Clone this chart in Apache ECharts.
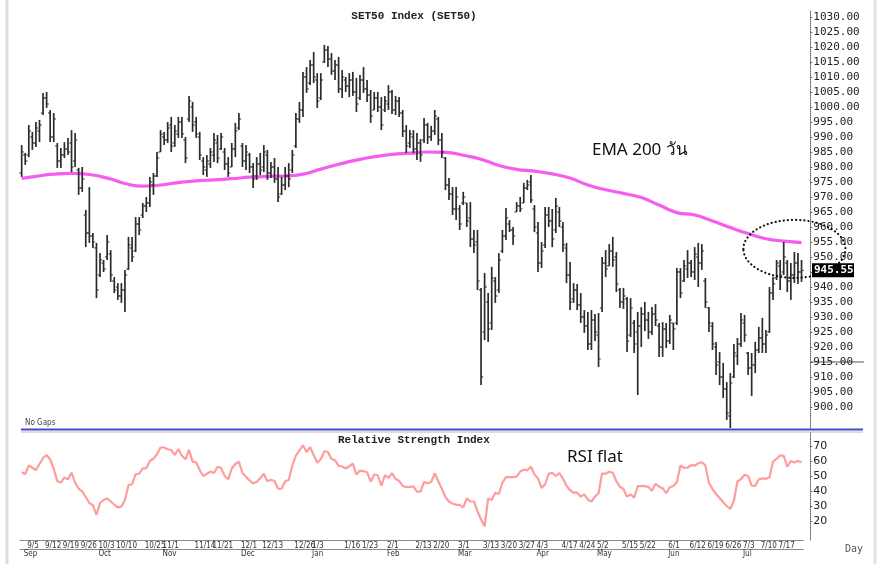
<!DOCTYPE html>
<html><head><meta charset="utf-8">
<script src="https://cdn.jsdelivr.net/npm/echarts@6/dist/echarts.min.js"></script>
<style>html,body{margin:0;padding:0;background:#fff}#c{width:880px;height:564px}</style>
</head><body><div id="c"></div>
<script>
// ---- categories (trading days, Sep 2022 - Jul 2023) ----
const dates = ['9/2','9/5','9/6','9/7','9/8','9/9','9/12','9/13','9/14','9/15','9/16','9/19','9/20','9/21','9/22','9/23','9/26','9/27','9/28','9/29','9/30',
'10/3','10/4','10/5','10/6','10/7','10/10','10/11','10/12','10/17','10/18','10/19','10/20','10/21','10/25','10/26','10/27','10/28','10/31',
'11/1','11/2','11/3','11/4','11/7','11/8','11/9','11/10','11/11','11/14','11/15','11/16','11/17','11/18','11/21','11/22','11/23','11/24','11/25','11/28','11/29','11/30',
'12/1','12/2','12/6','12/7','12/8','12/9','12/13','12/14','12/15','12/16','12/19','12/20','12/21','12/22','12/23','12/26','12/27','12/28','12/29','12/30',
'1/3','1/4','1/5','1/6','1/9','1/10','1/11','1/12','1/13','1/16','1/17','1/18','1/19','1/20','1/23','1/24','1/25','1/26','1/27','1/30','1/31',
'2/1','2/2','2/3','2/6','2/7','2/8','2/9','2/10','2/13','2/14','2/15','2/16','2/17','2/20','2/21','2/22','2/23','2/24','2/27','2/28',
'3/1','3/2','3/3','3/7','3/8','3/9','3/10','3/13','3/14','3/15','3/16','3/17','3/20','3/21','3/22','3/23','3/24','3/27','3/28','3/29','3/30','3/31',
'4/3','4/4','4/5','4/7','4/10','4/11','4/12','4/17','4/18','4/19','4/20','4/21','4/24','4/25','4/26','4/27','4/28',
'5/2','5/3','5/8','5/9','5/10','5/11','5/12','5/15','5/16','5/17','5/18','5/19','5/22','5/23','5/24','5/25','5/26','5/29','5/30','5/31',
'6/1','6/2','6/6','6/7','6/8','6/9','6/12','6/13','6/14','6/15','6/16','6/19','6/20','6/21','6/22','6/23','6/26','6/27','6/28','6/29','6/30',
'7/3','7/4','7/5','7/6','7/7','7/10','7/11','7/12','7/13','7/14','7/17','7/18','7/19','7/20','7/21','7/24','7/25','7/26'];

// ---- tick labels ----
const labeledDates = ['9/5','9/12','9/19','9/26','10/3','10/10','10/25','11/1','11/14','11/21','12/1','12/13','12/26','1/3','1/16','1/23','2/1','2/13','2/20','3/1','3/13','3/20','3/27','4/3','4/17','4/24','5/2','5/15','5/22','6/1','6/12','6/19','6/26','7/3','7/10','7/17'];
const monthDates = ['9/2','10/3','11/1','12/1','1/3','2/1','3/1','4/3','5/2','6/1','7/3'];
const monthNames = ['Sep','Oct','Nov','Dec','Jan','Feb','Mar','Apr','May','Jun','Jul'];
const priceTicks = [900,905,910,915,920,925,930,935,940,945,950,955,960,965,970,975,980,985,990,995,1000,1005,1010,1015,1020,1025,1030];
const rsiTicks = [20,30,40,50,60,70];

// ---- SET50 daily OHLC ----
const opens = [978,984,984,990,988,992,998,1003,998,990,
987,982,984,986,988,982,979,973,964,958,
957,953,944,948,950,951,942,940,937,939,
946,953,952,961,964,967,968,974,977,985,
990,989,994,988,991,995,989,996,1000,995,
990,982,979,981,984,988,986,985,981,980,
986,993,987,982,984,980,977,981,980,984,
978,980,976,971,974,977,979,987,996,999,
1010,1008,1014,1009,1003,1015,1019,1016,1012,1014,
1006,1009,1007,1009,1005,1003,1009,1006,1004,999,
1003,1000,999,1001,1005,999,1002,998,992,988,
990,986,988,989,994,990,992,996,989,983,
974,971,966,966,968,968,963,956,955,939,
925,935,928,942,939,952,957,961,959,965,
967,968,973,975,966,958,948,954,964,962,
959,965,960,953,944,936,939,934,930,927,
921,929,924,933,948,947,952,950,939,935,
936,924,928,925,927,931,929,925,931,927,
920,926,922,928,928,945,942,946,948,945,
950,948,942,933,927,920,915,910,906,897,
910,917,921,928,918,913,914,919,923,921,
925,938,943,947,945,948,942,944,948,945];
const highs = [987.3,984.7,994,991.7,995,995.7,1004.7,1005,999,998,
988,986.3,988.3,989.7,992.3,991.3,979.7,980,965.7,973.3,
958,954.7,951.3,949,957.3,952.3,943.3,941.3,941.3,945.7,
956.7,956.7,963.3,963.3,968,970,976.7,978,985,992.3,
991.7,995,996.7,994,996.7,996.7,990,1003.7,1001.7,996.7,
991.7,983.3,984,986.3,991.3,990.7,991.3,986.3,983.3,988,
994.7,998,988,987.3,984.7,981.3,983.3,984.7,987.3,985.7,
981.7,983,980,976.7,980,981.3,985.7,998,1001.7,1011.7,
1013.3,1015.7,1018.3,1011.3,1011.3,1020.7,1020.3,1018,1015.7,1016.7,
1012.3,1010,1011.3,1011.7,1009.7,1010.7,1013.3,1009,1005.7,1005,
1005,1003.3,1003.7,1007.3,1005.7,1003.7,1003.3,999,994,992.3,
992.3,991.3,989.3,996.3,994.7,993.7,999,996.7,991.3,983.3,
976.3,973.3,973.3,967.3,971.7,968,968.3,959,959,939.7,
944.7,938,946.7,943.3,951.3,959,966.3,962.3,960,968.3,
970,974.7,975.7,977.3,967.3,961.7,955,966.7,966.7,966,
969.7,966.7,961.7,954.7,948.3,941.3,941,938,932.3,931.7,
932.3,931,931.3,950,952.3,954.3,956.7,951.7,939.7,939.7,
936.7,936.3,929,931.7,933.3,935,931.7,933.3,934.3,928,
928.3,928,930.7,928,946.3,946.3,949,952.3,949,953.3,
954.7,954.3,943,933.3,928.3,921.7,918.3,914.7,908.3,911.3,
921,923,931.3,930.7,918.3,918,921.7,926.7,929.7,925.7,
940,943.3,949,949,955,949,948,951.7,951.3,949];
const lows = [976.7,980.7,983.3,985.7,986.7,988.3,997.3,999.7,988.3,988.3,
979.7,979.7,983,984,978.3,980,970.7,971.7,953.3,954.7,
953,936.3,943.3,945,949,941.7,938,935.7,934.7,931.7,
945.7,948.3,951.7,957.3,963,965,966.7,970.7,976.7,985,
987.3,988,985,986.7,989.7,989.7,981.3,995,991.7,989.7,
982.3,977.3,976.7,979.7,981.7,981.3,985.7,979,976.7,980,
983.3,992.3,980,979,978,973,975.7,977.3,978.3,975.7,
976.3,974.7,968.3,970.7,972.3,973.3,978,986.3,994.7,996.7,
1004.7,1007.3,1008,999.7,1002.3,1014.7,1013.3,1010.7,1009,1004.7,
1003,1005,1003.3,1003.7,998.3,1002.3,1004.7,1001.7,994.7,999,
998.3,992.3,998.3,999,997.7,997.3,996.7,990,984.7,986.3,
984.7,982.3,981.7,988,987.7,988.7,990.7,987.3,983,972.3,
969,964,962.3,959,967.3,960,953.3,951.3,939,907.3,
922.3,921.7,925.7,934.7,938,951.3,955.7,958.3,954,965,
965,968,972.3,968,958.3,945,946.3,953,960,953.3,
958,960,951.7,941.3,932.3,934.7,932.3,928,924.7,919,
919,922,913.3,931.7,943.3,947,946.7,938.3,933,932.7,
918.3,923.3,918,904,920,925.3,922.7,924,927,916.7,
916.7,919.7,921,919,927.3,936.3,941.7,943,943.3,942.3,
940,945.7,933,925,919,910.7,907.3,903,895.7,893,
909.7,914,920,921.7,910.7,903.7,911.3,918,918,918,
924.7,935.7,942.3,939,944,938.3,935.7,941.3,941,941.7];
const closes = [985,982,992,988,993,994,1003,1001,990,996,
982,984,986,985,980,989,973,976,958,957,
955,939,949,946,955,944,939,937,939,944,
954,950,961,959,967,968,975,977,983,991,
989,993,987,992,995,991,983,1002,994,991,
984,980,982,985,989,983,990,981,978,986,
992,996,982,985,980,976,981,979,985,978,
980,976,970,974,977,976,984,996,999,1010,
1006,1014,1010,1002,1009,1019,1016,1012,1014,1006,
1010,1007,1009,1005,1001,1009,1006,1004,997,1003,
1000,994,1002,1005,999,1002,998,992,987,991,
986,988,984,994,990,992,997,989,985,974,
971,966,970,961,970,962,956,954,942,910,
940,926,943,937,949,957,963,959,957,967,
966,973,974,969,960,948,952,964,962,956,
967,962,954,944,935,939,934,930,927,921,
929,925,916,948,946,952,949,941,935,937,
922,933,921,927,931,929,925,931,929,920,
926,922,929,926,945,938,947,948,945,951,
948,952,935,928,921,914,910,906,898,908,
918,921,929,924,913,914,919,923,921,924,
938,941,948,944,950,942,944,948,945,945.55];

// ---- EMA 200 (read at sampled days) ----
const emaDates = ['9/2','9/8','9/15','9/22','9/29','10/7','10/17','10/25','11/1','11/8','11/15','11/22','11/29','12/7','12/15','12/22','12/29','1/6','1/13','1/20','1/27','2/3','2/10','2/17','2/24','3/3','3/13','3/20','3/27','4/3','4/11','4/20','4/27','5/9','5/16','5/23','5/30','6/7','6/14','6/21','6/28','7/5','7/12','7/19','7/26'];
const emaValues = [976.2,976.9,977.6,977.9,977.5,976.0,974.5,973.6,974.0,974.8,975.4,975.7,976.1,976.6,976.9,977.0,977.6,979.3,980.9,982.3,983.4,984.2,984.6,985.0,984.9,983.9,982.6,980.5,979.2,978.6,977.7,976.3,974.0,972.4,971.2,969.8,967.3,964.8,964.0,962.0,959.8,957.8,956.1,955.3,954.8];

// ---- RSI ----
const rsi = [52.5,51.3,57,55.5,54,58,62,64,61,55,
46.5,45.6,49,47.8,52.2,45.5,41.5,39.8,36,32,
30.5,24,32,34,35,33,31,29.1,29.6,34,
44,44.5,51.3,51.5,55.1,55.1,60,61.5,64.5,69,
69,67.8,67.3,64,68,63.5,61.1,67.5,59.6,59,
54,50,51.5,52.9,52,56.2,55.3,50,47.8,55,
58,59.5,52,49.5,47,45.1,46,48.5,51.5,46.5,
47.5,46.7,41.5,41.5,46.5,47.3,57,63.5,67,70.5,
66,69.3,64,58.8,61.2,66.5,66,61.3,60.5,56.8,
56.3,55,56.5,58.2,51,53.6,53.2,52.5,46.2,51,
50.5,43.5,50.5,48.8,51.8,48,46.8,43.3,42.6,42.8,
43,39.6,39.6,46,45.2,46,51.8,46.5,41.5,36,
33,31.6,30.8,30.8,29,35.1,33,33,26.5,21,
16.5,35,34,38.8,38,45.5,49.3,49.3,49.2,49.5,
53,54.2,53.8,56.2,51,48.3,42,44.5,51.5,52.1,
50,52,48.3,43.5,40.5,38.9,38.9,36.2,37.8,34.2,
33,36.2,38.5,51.8,51.5,52.8,52.2,46.5,42.8,41.3,
36.2,37.8,35.5,43.3,43.3,43.2,42.7,40.2,44.8,42.9,
41.9,38.5,42.5,43.3,46,57,55.5,55.5,57.2,56.9,
58.5,59.2,57,45.5,41.3,38,35.3,32.5,30,28,
33.5,46.3,47.8,50.8,50,43.5,43.4,47.8,48.4,48.1,
49,59.6,61.5,63.8,63.4,56.2,60,59,60.2,59];

// ---- build ----
const ohlcData = dates.map((d, i) => [i, opens[i], highs[i], lows[i], closes[i]]);
const emaData = emaDates.map((d, i) => [d, emaValues[i]]);
const lastClose = closes[closes.length - 1];
const smallFont = '"Liberation Sans Narrow","DejaVu Sans Condensed","Liberation Sans",sans-serif';

function renderOHLC(params, api) {
  const i = api.value(0);
  const pO = api.coord([i, api.value(1)]);
  const pH = api.coord([i, api.value(2)]);
  const pL = api.coord([i, api.value(3)]);
  const pC = api.coord([i, api.value(4)]);
  const t = 2.2, col = '#2b2b2b';
  return {
    type: 'group',
    children: [
      {type: 'line', shape: {x1: pH[0], y1: pH[1], x2: pL[0], y2: pL[1]}, style: {stroke: col, lineWidth: 1.7}},
      {type: 'line', shape: {x1: pO[0] - t, y1: pO[1], x2: pO[0], y2: pO[1]}, style: {stroke: col, lineWidth: 1}},
      {type: 'line', shape: {x1: pC[0], y1: pC[1], x2: pC[0] + t, y2: pC[1]}, style: {stroke: col, lineWidth: 1}}
    ]
  };
}

const chart = echarts.init(document.getElementById('c'), null, {renderer: 'canvas'});
const gridL = 19.9, gridR = 76.7;
chart.setOption({
  animation: false,
  backgroundColor: '#ffffff',
  grid: [
    {left: gridL, right: gridR, top: 10, height: 418},
    {left: gridL, right: gridR, top: 432, height: 108}
  ],
  xAxis: [
    {type: 'category', gridIndex: 0, data: dates, boundaryGap: true, show: false},
    {type: 'category', gridIndex: 1, data: dates, boundaryGap: true,
      axisLine: {lineStyle: {color: '#8a8a8a', width: 1}},
      axisTick: {alignWithLabel: true, interval: (i, v) => labeledDates.includes(v), length: 9, lineStyle: {color: '#777'}},
      axisLabel: {interval: (i, v) => labeledDates.includes(v), align: 'left', margin: 2, padding: [0, 0, 0, 2],
        fontSize: 8, color: '#333', fontFamily: smallFont},
      splitLine: {show: false}},
    {type: 'category', gridIndex: 1, data: dates, boundaryGap: true, position: 'bottom', offset: 9,
      axisLine: {lineStyle: {color: '#8a8a8a', width: 1}},
      axisTick: {alignWithLabel: true, interval: (i, v) => monthDates.includes(v), length: 8, lineStyle: {color: '#777'}},
      axisLabel: {interval: (i, v) => monthDates.includes(v), formatter: v => monthNames[monthDates.indexOf(v)] || '',
        align: 'left', margin: 1, padding: [0, 0, 0, 2], fontSize: 8, color: '#333', fontFamily: smallFont},
      splitLine: {show: false}}
  ],
  yAxis: [
    {type: 'value', gridIndex: 0, position: 'right', offset: 7, min: 893, max: 1032.33,
      axisLine: {show: true, lineStyle: {color: '#666', type: 'dotted', width: 1}},
      axisTick: {show: true, customValues: priceTicks, length: 2, inside: false, lineStyle: {color: '#666'}},
      axisLabel: {customValues: priceTicks, formatter: v => v.toFixed(2), margin: 3, fontSize: 11, color: '#222',
        fontFamily: '"DejaVu Sans Mono",monospace'},
      splitLine: {show: false}},
    {type: 'value', gridIndex: 1, position: 'right', offset: 7, min: 7.33, max: 79.33,
      axisLine: {show: true, lineStyle: {color: '#666', type: 'dotted', width: 1}},
      axisTick: {show: true, customValues: rsiTicks, length: 2, lineStyle: {color: '#666'}},
      axisLabel: {customValues: rsiTicks, margin: 3, fontSize: 11, color: '#222', fontFamily: '"DejaVu Sans",sans-serif'},
      splitLine: {show: false}}
  ],
  series: [
    {name: 'EMA 200', type: 'line', xAxisIndex: 0, yAxisIndex: 0, data: emaData, smooth: true, showSymbol: false,
      lineStyle: {color: '#f55cf0', width: 3.2}, z: 2},
    {name: 'SET50', type: 'custom', xAxisIndex: 0, yAxisIndex: 0, data: ohlcData, renderItem: renderOHLC,
      encode: {x: 0, y: [1, 2, 3, 4]}, z: 3},
    {name: 'RSI', type: 'line', xAxisIndex: 1, yAxisIndex: 1, data: rsi, showSymbol: false,
      lineStyle: {color: '#ff9c9c', width: 2.2}}
  ]
});

const yLast = chart.convertToPixel({yAxisIndex: 0}, lastClose);
const y915 = chart.convertToPixel({yAxisIndex: 0}, 915);
const ell = chart.convertToPixel({xAxisIndex: 0, yAxisIndex: 0}, [dates[217], 952.7]);

chart.setOption({
  graphic: [
    {type: 'line', shape: {x1: 7, y1: 0, x2: 7, y2: 564}, style: {stroke: '#dcdcdc', lineWidth: 3}, silent: true},
    {type: 'line', shape: {x1: 875, y1: 0, x2: 875, y2: 564}, style: {stroke: '#e2e2e2', lineWidth: 3}, silent: true},
    {type: 'line', shape: {x1: 21, y1: 429.5, x2: 863, y2: 429.5}, style: {stroke: '#4848c8', lineWidth: 2}, silent: true},
    {type: 'line', shape: {x1: 21, y1: 432, x2: 863, y2: 432}, style: {stroke: '#b8b8c8', lineWidth: 1}, silent: true},
    {type: 'line', shape: {x1: 810, y1: y915, x2: 864, y2: y915}, style: {stroke: '#555', lineWidth: 1}, silent: true},
    {type: 'text', x: 414, y: 16, style: {text: 'SET50 Index (SET50)', font: 'bold 11px "Liberation Mono",monospace', fill: '#222', textAlign: 'center', textVerticalAlign: 'middle'}},
    {type: 'text', x: 338, y: 440, style: {text: 'Relative Strength Index', font: 'bold 11px "Liberation Mono",monospace', fill: '#222', textAlign: 'left', textVerticalAlign: 'middle'}},
    {type: 'text', x: 592, y: 150, style: {text: 'EMA 200 วัน', font: '17px "Noto Sans","DejaVu Sans",sans-serif', fill: '#111', textAlign: 'left', textVerticalAlign: 'middle'}},
    {type: 'text', x: 567, y: 457, style: {text: 'RSI flat', font: '17px "Noto Sans","DejaVu Sans",sans-serif', fill: '#111', textAlign: 'left', textVerticalAlign: 'middle'}},
    {type: 'text', x: 25, y: 423, style: {text: 'No Gaps', font: '8px ' + smallFont, fill: '#444', textAlign: 'left', textVerticalAlign: 'middle'}},
    {type: 'text', x: 845, y: 549, style: {text: 'Day', font: '10px "DejaVu Sans Mono",monospace', fill: '#555', textAlign: 'left', textVerticalAlign: 'middle'}},
    {type: 'ellipse', shape: {cx: ell[0], cy: ell[1], rx: 51, ry: 29}, style: {fill: null, stroke: '#111', lineWidth: 2.2, lineDash: [0.1, 4], lineCap: 'round'}, z: 50, silent: true},
    {type: 'rect', shape: {x: 812, y: yLast - 7, width: 42, height: 14}, style: {fill: '#000'}, z: 60},
    {type: 'text', x: 814, y: yLast, style: {text: lastClose.toFixed(2), font: 'bold 11px "DejaVu Sans Mono",monospace', fill: '#fff', textAlign: 'left', textVerticalAlign: 'middle'}, z: 61}
  ]
});
</script>
</body></html>
